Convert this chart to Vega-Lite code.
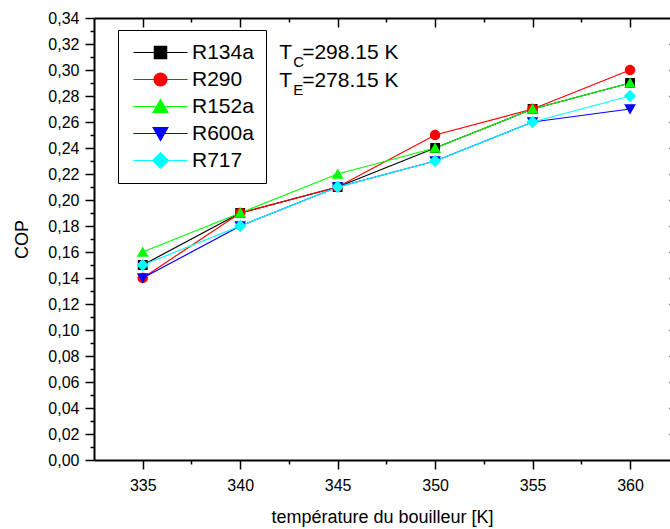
{
  "$schema": "https://vega.github.io/schema/vega-lite/v6.json",
  "width": 576,
  "height": 442,
  "autosize": {"type": "none"},
  "padding": {"left": 94, "top": 18, "right": 0, "bottom": 69},
  "background": "white",
  "config": {
    "view": {"stroke": null},
    "font": "Liberation Sans",
    "axis": {"domainColor": "black", "tickColor": "black", "labelColor": "black", "titleColor": "black", "grid": false, "labelFont": "Liberation Sans", "titleFont": "Liberation Sans", "titleFontWeight": "normal", "labelOverlap": false, "labelFlush": false},
    "legend": {
      "title": null, "orient": "none", "legendX": 24, "legendY": 12,
      "strokeColor": "black", "fillColor": "white", "padding": 12,
      "labelFont": "Liberation Sans", "labelFontSize": 21, "labelColor": "black",
      "symbolSize": 196, "symbolOffset": 20, "labelOffset": 21, "rowPadding": 5,
      "symbolStrokeWidth": 1.2, "symbolOpacity": 1
    }
  },
  "data": {"values": [
    {"T": 335, "COP": 0.15, "fluide": "R134a"},
    {"T": 340, "COP": 0.19, "fluide": "R134a"},
    {"T": 345, "COP": 0.21, "fluide": "R134a"},
    {"T": 350, "COP": 0.24, "fluide": "R134a"},
    {"T": 355, "COP": 0.27, "fluide": "R134a"},
    {"T": 360, "COP": 0.29, "fluide": "R134a"},
    {"T": 335, "COP": 0.14, "fluide": "R290"},
    {"T": 340, "COP": 0.19, "fluide": "R290"},
    {"T": 345, "COP": 0.21, "fluide": "R290"},
    {"T": 350, "COP": 0.25, "fluide": "R290"},
    {"T": 355, "COP": 0.27, "fluide": "R290"},
    {"T": 360, "COP": 0.30, "fluide": "R290"},
    {"T": 335, "COP": 0.16, "fluide": "R152a"},
    {"T": 340, "COP": 0.19, "fluide": "R152a"},
    {"T": 345, "COP": 0.22, "fluide": "R152a"},
    {"T": 350, "COP": 0.24, "fluide": "R152a"},
    {"T": 355, "COP": 0.27, "fluide": "R152a"},
    {"T": 360, "COP": 0.29, "fluide": "R152a"},
    {"T": 335, "COP": 0.14, "fluide": "R600a"},
    {"T": 340, "COP": 0.18, "fluide": "R600a"},
    {"T": 345, "COP": 0.21, "fluide": "R600a"},
    {"T": 350, "COP": 0.23, "fluide": "R600a"},
    {"T": 355, "COP": 0.26, "fluide": "R600a"},
    {"T": 360, "COP": 0.27, "fluide": "R600a"},
    {"T": 335, "COP": 0.15, "fluide": "R717"},
    {"T": 340, "COP": 0.18, "fluide": "R717"},
    {"T": 345, "COP": 0.21, "fluide": "R717"},
    {"T": 350, "COP": 0.23, "fluide": "R717"},
    {"T": 355, "COP": 0.26, "fluide": "R717"},
    {"T": 360, "COP": 0.28, "fluide": "R717"}
  ]},
  "layer": [
    {
      "mark": {"type": "line", "strokeWidth": 1.2},
      "encoding": {
        "x": {"field": "T", "type": "quantitative",
          "scale": {"domain": [332.5, 362.05], "nice": false, "zero": false},
          "axis": {"orient": "bottom", "values": [335, 337.5, 340, 342.5, 345, 347.5, 350, 352.5, 355, 357.5, 360],
            "tickSize": {"condition": {"test": "datum.value % 5 === 0", "value": 9}, "value": 4},
            "labelExpr": "datum.value % 5 === 0 ? datum.label : ''",
            "domainWidth": 2, "tickWidth": 1.5, "labelFontSize": 16, "labelPadding": 8,
            "title": "température du bouilleur [K]", "titleFontSize": 18, "titlePadding": 15}},
        "y": {"field": "COP", "type": "quantitative",
          "scale": {"domain": [0, 0.34], "nice": false, "zero": false},
          "axis": {"orient": "left", "values": [0, 0.01, 0.02, 0.03, 0.04, 0.05, 0.06, 0.07, 0.08, 0.09, 0.1, 0.11, 0.12, 0.13, 0.14, 0.15, 0.16, 0.17, 0.18, 0.19, 0.2, 0.21, 0.22, 0.23, 0.24, 0.25, 0.26, 0.27, 0.28, 0.29, 0.3, 0.31, 0.32, 0.33, 0.34],
            "tickSize": {"condition": {"test": "round(datum.value * 100) % 2 === 0", "value": 9}, "value": 4},
            "labelExpr": "round(datum.value * 100) % 2 === 0 ? replace(format(datum.value, '.2f'), '.', ',') : ''",
            "domainWidth": 2, "tickWidth": 1.5, "labelFontSize": 16, "labelPadding": 6,
            "title": "COP", "titleFontSize": 18, "titlePadding": 16}},
        "color": {"field": "fluide", "type": "nominal",
          "scale": {"domain": ["R134a", "R290", "R152a", "R600a", "R717"], "range": ["#000000", "#ff0000", "#00ff00", "#0000ff", "#00ffff"]},
          "legend": {"encode": {"symbols": {"update": {
              "stroke": {"signal": "scale('color', datum.value)"},
              "fill": {"signal": "scale('color', datum.value)"},
              "strokeWidth": {"value": 1.2},
              "opacity": {"value": 1}
            }}}}}
      }
    },
    {
      "mark": {"type": "point", "filled": true, "size": 125, "opacity": 1, "strokeWidth": 0},
      "encoding": {
        "x": {"field": "T", "type": "quantitative",
          "axis": {"orient": "top", "values": [335, 337.5, 340, 342.5, 345, 347.5, 350, 352.5, 355, 357.5, 360],
            "tickSize": {"condition": {"test": "datum.value % 5 === 0", "value": -9}, "value": -4},
            "labels": false, "domainWidth": 2, "tickWidth": 1.5, "title": null}},
        "y": {"field": "COP", "type": "quantitative",
          "axis": {"orient": "right", "offset": 8, "values": [0.02, 0.04, 0.06, 0.08, 0.1, 0.12, 0.14, 0.16, 0.18, 0.2, 0.22, 0.24, 0.26, 0.28, 0.3, 0.32],
            "tickSize": -9, "labels": false, "domain": false, "tickWidth": 1.5, "title": null}},
        "color": {"field": "fluide", "type": "nominal",
          "legend": {"encode": {"symbols": {"update": {
              "stroke": {"signal": "scale('color', datum.value)"},
              "fill": {"signal": "scale('color', datum.value)"},
              "strokeWidth": {"value": 1.2},
              "opacity": {"value": 1}
            }}}}},
        "shape": {"field": "fluide", "type": "nominal",
          "scale": {"domain": ["R134a", "R290", "R152a", "R600a", "R717"],
            "range": [
              "M-3.86,0H3.86M-0.88,-0.88H0.88V0.88H-0.88Z",
              "M-3.86,0H3.86M0.93,0A0.93,0.93,0,1,1,-0.93,0A0.93,0.93,0,1,1,0.93,0Z",
              "M-3.86,0H3.86M0,-1.0L1.05,0.85L-1.05,0.85Z",
              "M-3.86,0H3.86M0,1.0L1.05,-0.85L-1.05,-0.85Z",
              "M-3.86,0H3.86M0,-1.1L1.1,0L0,1.1L-1.1,0Z"
            ]},
          "legend": {"encode": {"symbols": {"update": {
              "stroke": {"signal": "scale('color', datum.value)"},
              "fill": {"signal": "scale('color', datum.value)"},
              "strokeWidth": {"value": 1.2},
              "opacity": {"value": 1}
            }}}}}
      }
    },
    {
      "data": {"values": [{}]},
      "mark": {"type": "text", "align": "left", "baseline": "alphabetic", "fontSize": 21, "font": "Liberation Sans", "color": "black", "lineHeight": 28},
      "encoding": {
        "x": {"datum": 342, "type": "quantitative", "axis": null},
        "y": {"datum": 0.3085, "type": "quantitative", "axis": null},
        "text": {"value": ["T", "T"]}
      }
    },
    {
      "data": {"values": [{}]},
      "mark": {"type": "text", "align": "left", "baseline": "alphabetic", "fontSize": 15, "font": "Liberation Sans", "color": "black", "lineHeight": 28, "dx": 14, "dy": 8},
      "encoding": {
        "x": {"datum": 342, "type": "quantitative", "axis": null},
        "y": {"datum": 0.3085, "type": "quantitative", "axis": null},
        "text": {"value": ["C", "E"]}
      }
    },
    {
      "data": {"values": [{}]},
      "mark": {"type": "text", "align": "left", "baseline": "alphabetic", "fontSize": 21, "font": "Liberation Sans", "color": "black", "lineHeight": 28, "dx": 23},
      "encoding": {
        "x": {"datum": 342, "type": "quantitative", "axis": null},
        "y": {"datum": 0.3085, "type": "quantitative", "axis": null},
        "text": {"value": ["=298.15 K", "=278.15 K"]}
      }
    }
  ],
  "resolve": {"scale": {"x": "shared", "y": "shared"}, "axis": {"x": "independent", "y": "independent"}}
}
